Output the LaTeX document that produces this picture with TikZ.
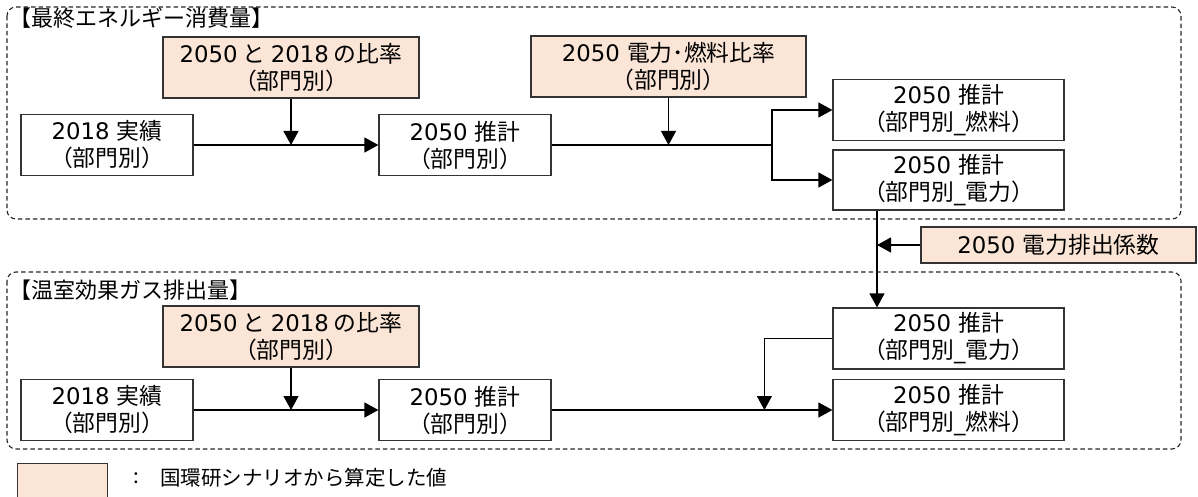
\documentclass[tikz,border=0pt]{standalone}
\usepackage{fontspec}
\setmainfont{Noto Sans CJK JP}
\newfontfamily\lat{DejaVu Sans}
\usetikzlibrary{arrows.meta}
\definecolor{peach}{HTML}{FBE5D6}
\newcommand\boxfont{\fontsize{22.8}{27}\selectfont}
\newcommand\ttlfont{\fontsize{22}{26}\selectfont}
\newcommand\lgfont{\fontsize{20.5}{24}\selectfont}
\tikzset{
  box/.style={draw=black!80, line width=1.2pt, fill=white, minimum width=172pt,
    minimum height=61pt, inner sep=0pt, align=center, font=\boxfont},
  pbox/.style={box, fill=peach},
  grp/.style={draw=black!85, dash pattern=on 4.5pt off 3pt, line width=1.1pt, rounded corners=9pt},
  arr/.style={line width=1.2pt, -{Triangle[length=14pt,width=15pt]}},
  ln/.style={line width=1.2pt},
  ttl/.style={anchor=west, inner sep=0pt, font=\ttlfont}
}
\begin{document}
\begin{tikzpicture}[x=1pt,y=-1pt]
\useasboundingbox (0,0) rectangle (1198,497);
% groups
\draw[grp] (7,7) rectangle (1181,219);
\draw[grp] (7,272) rectangle (1181,449);
\node[ttl] (t1) at (9,18) {【最終エネルギー消費量】};
\node[ttl] (t2) at (9,290) {【温室効果ガス排出量】};
% top row
\node[box] (a1) at (107,145) {{\lat 2018 }実績\\（部門別）};
\node[pbox, minimum width=256pt] (p1) at (291,67.5) {{\lat 2050} と {\lat 2018} の比率\\（部門別）};
\node[box] (b1) at (465,145) {{\lat 2050 }推計\\（部門別）};
\node[pbox, minimum width=275pt] (p2) at (668.5,66.5) {{\lat 2050 }電力･燃料比率\\（部門別）};
\node[box, minimum width=231pt] (c1) at (948.5,110) {{\lat 2050 }推計\\（部門別{\lat\_}燃料）};
\node[box, minimum width=231pt, minimum height=60pt] (d1) at (948.5,180) {{\lat 2050 }推計\\（部門別{\lat\_}電力）};
\node[pbox, minimum width=275pt, minimum height=36pt] (ef) at (1058.5,245) {{\lat 2050 }電力排出係数};
% bottom row
\node[pbox, minimum width=256pt] (p3) at (291,336.5) {{\lat 2050} と {\lat 2018} の比率\\（部門別）};
\node[box] (a2) at (107,410) {{\lat 2018 }実績\\（部門別）};
\node[box] (b2) at (465,410) {{\lat 2050 }推計\\（部門別）};
\node[box, minimum width=231pt] (e2) at (948.5,338.5) {{\lat 2050 }推計\\（部門別{\lat\_}電力）};
\node[box, minimum width=231pt] (f2) at (948.5,410) {{\lat 2050 }推計\\（部門別{\lat\_}燃料）};
% legend
\node[box, fill=peach, minimum width=90pt, minimum height=42pt, anchor=north west] (lg) at (17,463) {};
\node[anchor=center, inner sep=0pt, font=\lgfont] (lc) at (136,478) {:};
\node[anchor=west, inner sep=0pt, font=\lgfont] (lt) at (160,478) {国環研シナリオから算定した値};
% connectors top
\draw[arr] (a1.east) -- (b1.west);
\draw[arr] (p1.south) -- (p1.south |- a1.east);
\coordinate (j1) at (772,145);
\draw[ln] (b1.east) -- (j1);
\draw[arr] (p2.south) -- (p2.south |- b1.east);
\draw[arr] (j1) |- (c1.west);
\draw[arr] (j1) |- (d1.west);
\coordinate (v) at ([xshift=-71.5pt]d1.south);
\coordinate (w) at ([xshift=-71.5pt]e2.north);
\draw[arr] (v) -- (w);
\draw[arr] (ef.west) -- (ef.west -| v);
% connectors bottom
\draw[arr] (a2.east) -- (b2.west);
\draw[arr] (p3.south) -- (p3.south |- a2.east);
\draw[arr] (b2.east) -- (f2.west);
\draw[arr] (e2.west) -| ([xshift=-68pt]f2.west);
\end{tikzpicture}
\end{document}
